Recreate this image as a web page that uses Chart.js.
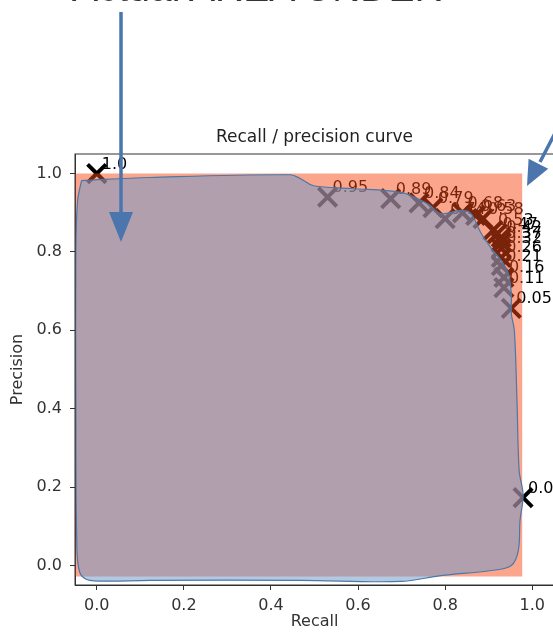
<!DOCTYPE html>
<html>
<head>
<meta charset="utf-8">
<script src="https://cdn.jsdelivr.net/npm/chart.js@4.4.0/dist/chart.umd.min.js"></script>
<style>
  body { margin: 0; background: #fff; overflow: hidden; }
  #wrap { position: relative; width: 556px; height: 632px; }
  #heading { position: absolute; left: 72px; top: -32px; margin: 0; font: 39px/39px "Liberation Sans", Arial, sans-serif; color: #333; white-space: nowrap; z-index: 2; }
  svg { position: absolute; left: 0; top: 0; }
</style>
</head>
<body>
<div id="wrap">
  <canvas id="pr_chart"></canvas>
  <div id="heading">Actual AREA UNDER</div>
  <svg width="556" height="632">
    <line x1="121" y1="12" x2="121" y2="214" stroke="#4a76ad" stroke-width="3.5"/>
    <polygon points="109,212 133,212 121,242" fill="#4a76ad"/>
    <line x1="566" y1="112" x2="540" y2="162" stroke="#4a76ad" stroke-width="3.5"/>
    <polygon points="528.6,158.8 548.2,168.8 527,186" fill="#4a76ad"/>
  </svg>
</div>

<script>
// thresholds and the recall / precision they give
const thresholds = ["1.0", "0.95", "0.89", "0.84", "0.79", "0.74", "0.68", "0.63", "0.58", "0.53",
  "0.47", "0.42", "0.37", "0.32", "0.26", "0.21", "0.16", "0.11", "0.05", "0.0"]
const recall = [0.0, 0.53, 0.675, 0.74, 0.772, 0.80, 0.84, 0.87, 0.887, 0.91,
  0.92, 0.929, 0.929, 0.929, 0.929, 0.929, 0.935, 0.935, 0.952, 0.979]
const precision = [1.0, 0.94, 0.936, 0.925, 0.913, 0.885, 0.90, 0.893, 0.885, 0.855,
  0.847, 0.837, 0.824, 0.809, 0.786, 0.765, 0.735, 0.709, 0.656, 0.173]

// ideal area (salmon box)
const boxRecall = [-0.05, 0.977, 0.977, -0.05, -0.05]
const boxPrecision = [1.0, 1.0, -0.028, -0.028, 1.0]

// hand drawn area under the curve
const blobRecall = [-0.035, 0.122, 0.445, 0.468, 0.498, 0.583, 0.698, 0.76, 0.79, 0.836, 0.859,
  0.882, 0.906, 0.929, 0.945, 0.952, 0.952, 0.959, 0.965, 0.97, 0.979, 0.972, 0.968, 0.952,
  0.906, 0.79, 0.698, 0.468, 0.122, -0.016, -0.039, -0.046, -0.048, -0.048, -0.044, -0.035]
const blobPrecision = [0.982, 0.99, 0.997, 0.987, 0.969, 0.962, 0.952, 0.923, 0.898, 0.906, 0.898,
  0.849, 0.809, 0.778, 0.745, 0.694, 0.643, 0.599, 0.421, 0.242, 0.179, 0.115, 0.038, 0.0,
  -0.013, -0.026, -0.041, -0.038, -0.038, -0.038, -0.018, 0.064, 0.421, 0.804, 0.931, 0.982]

const xTicks = [0, 0.2, 0.4, 0.6, 0.8, 1.0]
const yTicks = [0, 0.2, 0.4, 0.6, 0.8, 1.0]

function toPoints(xs, ys) {
  return xs.map((x, i) => ({ x: x, y: ys[i] }))
}

Chart.defaults.font.family = "'DejaVu Sans', sans-serif"

// threshold text next to each cross, drawn right after the crosses so the shading covers it
const thresholdLabels = {
  id: 'thresholdLabels',
  afterDatasetDraw(chart, args) {
    if (args.index !== 2) return
    const ctx = chart.ctx
    ctx.save()
    ctx.font = "16px 'DejaVu Sans', sans-serif"
    ctx.fillStyle = '#000'
    ctx.textBaseline = 'alphabetic'
    args.meta.data.forEach(function (pt, i) {
      ctx.fillText(thresholds[i], pt.x + 5, pt.y - 5)
    })
    ctx.restore()
  }
}

const frame = {
  id: 'frame',
  afterDraw(chart) {
    const a = chart.chartArea
    const ctx = chart.ctx
    ctx.save()
    ctx.strokeStyle = '#333'
    ctx.lineWidth = 1
    ctx.strokeRect(a.left, a.top, a.right - a.left, a.bottom - a.top)
    ctx.restore()
  }
}

new Chart(document.querySelector('#pr_chart'), {
  type: 'scatter',
  data: {
    datasets: [
      {
        label: 'area under curve',
        data: toPoints(blobRecall, blobPrecision),
        showLine: true,
        fill: 'shape',
        tension: 0.35,
        backgroundColor: 'rgba(118,155,200,0.55)',
        borderColor: '#4a78a8',
        borderWidth: 1.2,
        pointRadius: 0,
        order: 1
      },
      {
        label: 'perfect area',
        data: toPoints(boxRecall, boxPrecision),
        showLine: true,
        fill: 'shape',
        backgroundColor: 'rgba(245,71,20,0.49)',
        borderColor: 'rgba(0,0,0,0)',
        borderWidth: 1,
        pointRadius: 0,
        order: 2
      },
      {
        label: 'thresholds',
        data: toPoints(recall, precision),
        showLine: false,
        pointStyle: 'crossRot',
        pointRadius: 13,
        pointBorderWidth: 4,
        pointBorderColor: '#000',
        pointBackgroundColor: '#000',
        order: 3
      }
    ]
  },
  options: {
    responsive: true,
    maintainAspectRatio: false,
    animation: false,
    layout: { autoPadding: false, padding: { left: 0, right: 2, top: 0, bottom: 0 } },
    plugins: {
      legend: { display: false },
      tooltip: { enabled: false }
    },
    scales: {
      x: {
        type: 'linear',
        min: -0.05,
        max: 1.05,
        afterBuildTicks: s => { s.ticks = xTicks.map(v => ({ value: v })) },
        afterFit: s => { s.height = 47; s.paddingLeft = 0; s.paddingRight = 0 },
        grid: { drawOnChartArea: false, tickLength: 5, color: '#333' },
        border: { color: '#333' },
        ticks: { color: '#333', font: { size: 16 }, padding: 6, maxRotation: 0, callback: v => v.toFixed(1) },
        title: { display: true, text: 'Recall', color: '#333', font: { size: 16 }, padding: { top: 0, bottom: 1 } }
      },
      // top axis only carries the plot title, centred over the axes
      top: {
        type: 'linear',
        axis: 'x',
        position: 'top',
        min: -0.05,
        max: 1.05,
        afterFit: s => { s.height = 154; s.paddingLeft = 0; s.paddingRight = 0 },
        grid: { display: false },
        border: { display: false },
        ticks: { display: false },
        title: { display: true, text: 'Recall / precision curve', color: '#222', font: { size: 17 }, padding: { top: 127, bottom: 0 } }
      },
      y: {
        type: 'linear',
        min: -0.05,
        max: 1.05,
        afterBuildTicks: s => { s.ticks = yTicks.map(v => ({ value: v })) },
        afterFit: s => { s.width = 75; s.paddingTop = 0; s.paddingBottom = 0 },
        grid: { drawOnChartArea: false, tickLength: 5, color: '#333' },
        border: { color: '#333' },
        ticks: { color: '#333', font: { size: 16 }, padding: 8, callback: v => v.toFixed(1) },
        title: { display: true, text: 'Precision', color: '#333', font: { size: 16 }, padding: { top: 8, bottom: 0 } }
      }
    }
  },
  plugins: [thresholdLabels, frame]
})
</script>
</body>
</html>
